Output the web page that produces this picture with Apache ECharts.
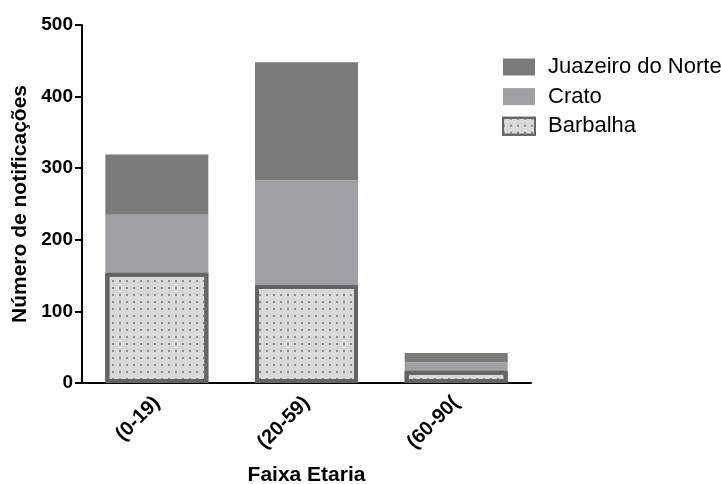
<!DOCTYPE html>
<html><head><meta charset="utf-8">
<script src="https://cdn.jsdelivr.net/npm/echarts@6/dist/echarts.min.js"></script>
<style>html,body{margin:0;padding:0;background:#fff}#c{width:721px;height:484px}</style>
</head><body><div id="c"></div>
<script>
const categories = ['(0-19)', '(20-59)', '(60-90('];
const barbalha = [154, 137, 17];
const crato = [81, 146, 12];
const juazeiro = [84, 165, 13];
const yTicks = [0, 100, 200, 300, 400, 500];

const chart = echarts.init(document.getElementById('c'), null, {renderer: 'canvas'});
const font = 'Liberation Sans, Arial, sans-serif';
chart.setOption({
  animation: false,
  grid: {left: 82, right: 190, top: 25, bottom: 101, containLabel: false, outerBoundsMode: 'none'},
  legend: {
    data: ['Juazeiro do Norte', 'Crato', 'Barbalha'],
    orient: 'vertical', left: 502, top: 56, padding: 0,
    icon: 'rect',
    itemWidth: 32, itemHeight: 17, itemGap: 7.6,
    textStyle: {fontFamily: font, fontSize: 22, color: '#000', padding: [0, 0, 0, 8]}
  },
  xAxis: {
    type: 'category', data: categories,
    axisLine: {lineStyle: {color: '#000', width: 2}},
    axisTick: {alignWithLabel: true, length: 7, lineStyle: {color: '#000', width: 2}},
    axisLabel: {rotate: 45, fontFamily: font, fontWeight: 'bold', fontSize: 20, color: '#000', margin: 17},
    name: 'Faixa Etaria', nameLocation: 'middle', nameGap: 82,
    nameTextStyle: {fontFamily: font, fontWeight: 'bold', fontSize: 21, color: '#000'}
  },
  yAxis: {
    type: 'value', min: yTicks[0], max: yTicks[yTicks.length - 1], interval: 100,
    splitLine: {show: false},
    axisLine: {show: true, lineStyle: {color: '#000', width: 2}},
    axisTick: {show: true, length: 7, lineStyle: {color: '#000', width: 2}},
    axisLabel: {fontFamily: font, fontWeight: 'bold', fontSize: 19, color: '#000', margin: 9},
    name: 'Número de notificações', nameLocation: 'middle', nameGap: 46,
    nameTextStyle: {fontFamily: font, fontWeight: 'bold', fontSize: 21, color: '#000'}
  },
  series: [
    {name: 'Barbalha', type: 'bar', stack: 's', data: barbalha, barWidth: 103, z: 3,
     itemStyle: {color: '#d9d9d9', borderColor: '#646464', borderWidth: 4,
       decal: {symbol: 'rect', symbolSize: 1, dashArrayX: [1.5, 4.3], dashArrayY: [1.5, 4.2], color: '#8a8a8a'}}},
    {name: 'Crato', type: 'bar', stack: 's', data: crato, barWidth: 103, z: 2,
     itemStyle: {color: '#a0a0a4'}},
    {name: 'Juazeiro do Norte', type: 'bar', stack: 's', data: juazeiro, barWidth: 103, z: 2,
     itemStyle: {color: '#7b7b7b'}}
  ]
});
</script></body></html>
